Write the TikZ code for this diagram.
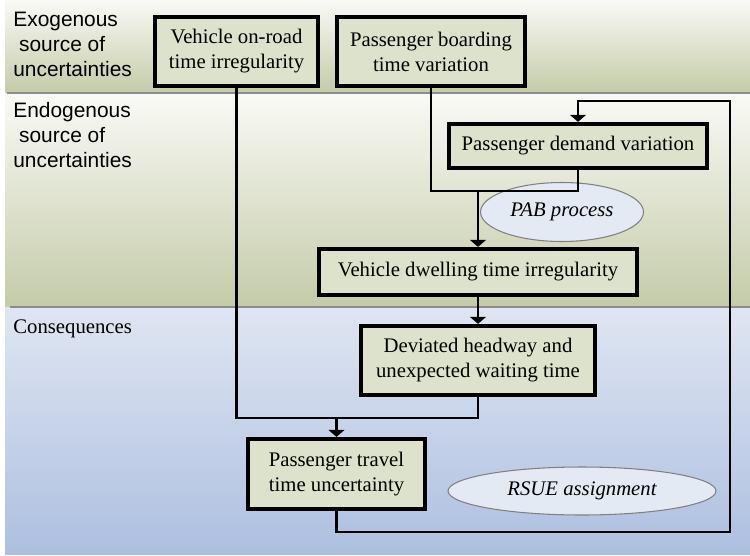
\documentclass[tikz,border=0pt]{standalone}
\usepackage{fontspec}
\setmainfont{Liberation Serif}
\setsansfont{Liberation Sans}
\usetikzlibrary{arrows.meta,shapes.geometric}
\definecolor{boxfill}{RGB}{220,226,203}
\definecolor{ovalfill}{RGB}{228,234,244}
\definecolor{bandwhite}{RGB}{249,250,246}
\definecolor{bandolive}{RGB}{196,203,168}
\definecolor{bluetop}{RGB}{223,230,242}
\definecolor{bluebottom}{RGB}{173,191,224}

\begin{document}
\begin{tikzpicture}[x=0.02cm,y=-0.02cm,
		factor/.style={draw,line width=2.4pt,fill=boxfill,align=center,inner sep=0pt,
			font=\fontsize{11.8}{14.2}\selectfont},
		method/.style={ellipse,draw=black!50,line width=0.6pt,fill=ovalfill,inner sep=0pt,
			font=\itshape\fontsize{11.8}{14.2}\selectfont},
		band/.style={anchor=north west,align=left,inner sep=0pt,
			font=\sffamily\fontsize{11.9}{14.2}\selectfont},
		link/.style={line width=1.35pt},
		flow/.style={link,-{Triangle[length=4pt,width=9pt]}}]
	\useasboundingbox (0,0) rectangle (750,555);

	% The three shaded layers and the lines between them.
	\shade[top color=bandwhite,bottom color=bandolive] (5,0) rectangle (750,93);
	\shade[top color=bandwhite,bottom color=bandolive] (5,93) rectangle (750,307);
	\shade[top color=bluetop,bottom color=bluebottom] (5,307) rectangle (750,554);
	\draw[black!45,line width=1.2pt] (7,93) -- (750,93);
	\draw[black!45,line width=1.2pt] (10,307) -- (750,307);

	\node[band] (exo) at (13,12) {Exogenous\\\ source of\\uncertainties};
	\node[band] (endo) at (13,102) {Endogenous\\\ source of\\uncertainties};
	\node[anchor=north west,inner sep=0pt,font=\fontsize{11.8}{14.2}\selectfont]
		(conseq) at (13,319) {Consequences};

	% Sources of the irregularities.
	\node[factor,minimum width=3.26cm,minimum height=1.38cm] (onroad) at (236.5,51.5)
		{Vehicle on-road\\time irregularity};
	\node[factor,minimum width=3.76cm,minimum height=1.38cm] (boarding) at (431,51.5)
		{Passenger boarding\\time variation};
	\node[factor,minimum width=5.16cm,minimum height=0.88cm] (demand) at (578,146)
		{Passenger demand variation};
	\node[factor,minimum width=6.36cm,minimum height=0.92cm] (dwelling) at (478,272)
		{Vehicle dwelling time irregularity};

	% Consequences.
	\node[factor,minimum width=4.68cm,minimum height=1.38cm] (deviated) at (478,360.5)
		{Deviated headway and\\unexpected waiting time};
	\node[factor,minimum width=3.54cm,minimum height=1.40cm] (travel) at (336.5,474)
		{Passenger travel\\time uncertainty};

	\node[method,minimum width=3.26cm,minimum height=1.18cm] (pab) at (562,212) {PAB process};
	\node[method,minimum width=5.36cm,minimum height=0.96cm] (rsue) at (582,491) {RSUE assignment};

	% Boarding time and demand meet above the dwelling time.
	\coordinate (gather) at (478,191);
	\draw[link] (boarding.south) |- (gather) -| (demand.south);
	\draw[flow] (gather) -- (dwelling.north);
	\draw[flow] (dwelling.south) -- (deviated.north);

	% On-road time and waiting time meet above the travel time.
	\coordinate (merge) at (336.5,418);
	\draw[link] (onroad.south) |- (merge) -| (deviated.south);
	\draw[flow] (merge) -- (travel.north);

	% Feedback loop back to the demand.
	\coordinate (loopcorner) at (730,101);
	\draw[flow] (travel.south) -- ++(0,21) -| (loopcorner) -| (demand.north);
\end{tikzpicture}
\end{document}
